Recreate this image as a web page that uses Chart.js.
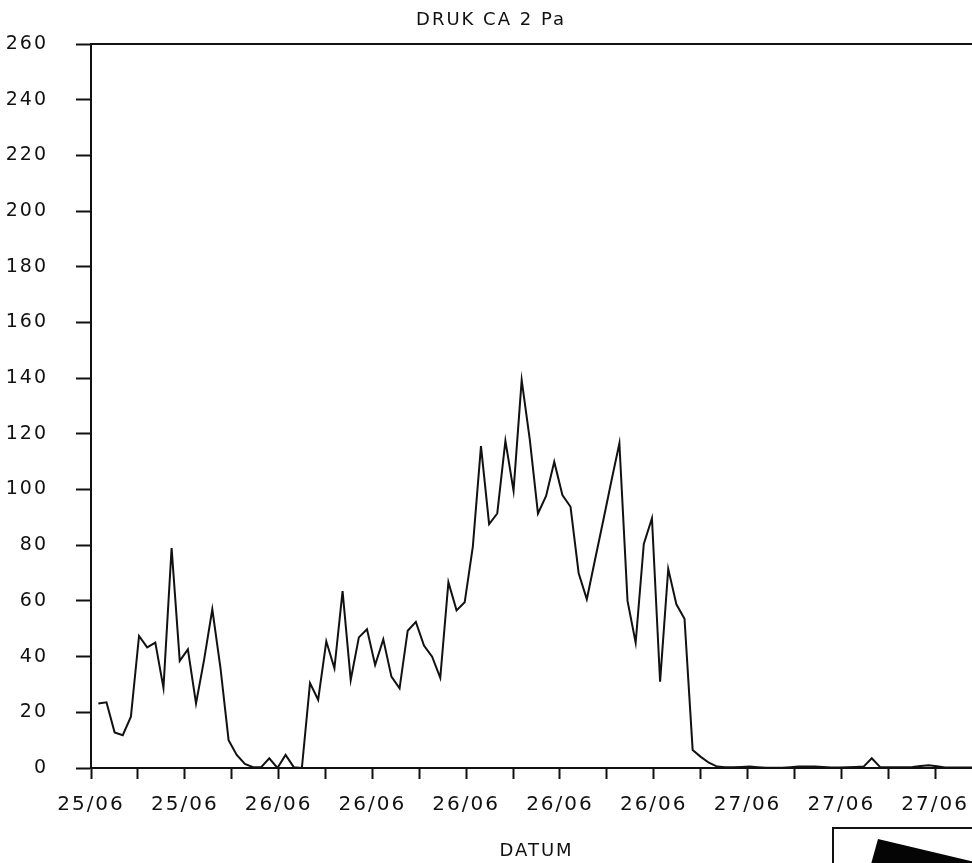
<!DOCTYPE html>
<html>
<head>
<meta charset="utf-8">
<title>DRUK CA 2 Pa</title>
<script src="https://cdn.jsdelivr.net/npm/chart.js@4.4.1/dist/chart.umd.min.js"></script>
<style>
  html, body { margin: 0; padding: 0; overflow: hidden; background: #ffffff; }
  canvas { display: block; }
</style>
</head>
<body>
<canvas id="chart" width="1058" height="863"></canvas>
<script>
// Pressure log: one reading every 25 minutes, drawn against elapsed minutes.
const TITLE = 'DRUK CA 2 Pa';
const X_TITLE = 'DATUM';

// Date labels, one on every other tick of the time axis
const DATE_LABELS = ['25/06', '25/06', '26/06', '26/06', '26/06', '26/06', '26/06', '27/06', '27/06', '27/06'];
const TICK_STEP_MIN = 144;
const TICK_COUNT = 19;

const SAMPLE_START_MIN = 22.5;
const SAMPLE_STEP_MIN = 25;

// Measured pressure (Pa)
const PRESSURE = [
  23.2, 23.6, 12.8, 11.8, 18.4, 47.4, 43.3, 45.0, 28.8, 79.0,
  38.5, 42.6, 23.2, 39.0, 57.0, 36.0, 10.0, 4.7, 1.5, 0.3,
  0.3, 3.5, 0.0, 4.7, 0.3, 0.0, 30.5, 24.5, 45.5, 35.8,
  63.5, 31.6, 46.9, 49.8, 37.0, 46.2, 32.8, 28.6, 49.3, 52.5,
  44.0, 40.0, 32.4, 66.7, 56.6, 59.5, 79.5, 115.6, 87.6, 91.4,
  117.5, 99.6, 139.3, 117.8, 91.4, 97.7, 110.0, 98.0, 93.8, 69.9,
  60.6, 74.7, 88.6, 102.8, 116.6, 60.0, 45.0, 80.5, 89.7, 31.0,
  71.5, 58.8, 53.6, 6.5, 4.0, 1.9, 0.5, 0.3, 0.3, 0.4,
  0.5, 0.3, 0.1, 0.1, 0.1, 0.3, 0.5, 0.5, 0.5, 0.4,
  0.2, 0.2, 0.3, 0.4, 0.5, 3.5, 0.4, 0.3, 0.3, 0.3,
  0.4, 0.7, 1.0, 0.6, 0.2, 0.2, 0.2, 0.2, 0.2
];

// Pressure axis
const Y_MIN = 0;
const Y_MAX = 260;
const Y_STEP = 20;

const INK = '#111111';
const FONT = "'DejaVu Sans', sans-serif";

const points = PRESSURE.map((v, i) => ({ x: SAMPLE_START_MIN + i * SAMPLE_STEP_MIN, y: v }));

// Spaced-out plotter lettering
const lettering = {
  id: 'lettering',
  beforeLayout(chart) { chart.ctx.letterSpacing = '2px'; },
  beforeDraw(chart) { chart.ctx.letterSpacing = '2px'; }
};

// Top frame line and the corner stamp
const frame = {
  id: 'frame',
  afterDraw(chart) {
    const { ctx, chartArea: a } = chart;
    ctx.save();
    ctx.strokeStyle = INK;
    ctx.lineWidth = 2;
    ctx.beginPath();
    ctx.moveTo(a.left, a.top);
    ctx.lineTo(a.right, a.top);
    ctx.stroke();

    // stamp box in the lower right corner
    ctx.beginPath();
    ctx.moveTo(833, chart.height + 5);
    ctx.lineTo(833, 828);
    ctx.lineTo(chart.width, 828);
    ctx.stroke();
    ctx.fillStyle = '#050505';
    ctx.beginPath();
    ctx.moveTo(878, 839);
    ctx.lineTo(1000, 868);
    ctx.lineTo(1000, 875);
    ctx.lineTo(868, 875);
    ctx.closePath();
    ctx.fill();
    ctx.restore();
  }
};

new Chart(document.getElementById('chart'), {
  type: 'line',
  data: {
    datasets: [{
      label: TITLE,
      data: points,
      borderColor: INK,
      borderWidth: 2,
      pointRadius: 0,
      tension: 0,
      fill: false
    }]
  },
  options: {
    responsive: false,
    animation: false,
    devicePixelRatio: 1,
    layout: { padding: { left: 0, right: 76, top: 0, bottom: 0 } },
    plugins: {
      legend: { display: false },
      tooltip: { enabled: false },
      title: {
        display: true,
        text: TITLE,
        color: INK,
        font: { family: FONT, size: 18, weight: 'normal' },
        padding: { top: 10, bottom: 12.4 }
      }
    },
    scales: {
      x: {
        type: 'linear',
        min: 0,
        max: TICK_COUNT * TICK_STEP_MIN,
        afterBuildTicks(scale) {
          scale.ticks = Array.from({ length: TICK_COUNT + 1 }, (_, k) => ({ value: k * TICK_STEP_MIN }));
        },
        afterFit(scale) { scale.height = 95; },
        ticks: {
          autoSkip: false,
          maxRotation: 0,
          minRotation: 0,
          padding: 14,
          color: INK,
          font: { family: FONT, size: 20 },
          callback: (value, index) => (index % 2 === 0 ? (DATE_LABELS[index / 2] || '') : '')
        },
        grid: {
          drawOnChartArea: false,
          drawTicks: true,
          tickLength: 11,
          tickWidth: 2,
          tickColor: INK,
          color: INK
        },
        border: { display: true, color: INK, width: 2 },
        title: {
          display: true,
          text: X_TITLE,
          color: INK,
          font: { family: FONT, size: 18 },
          padding: { top: 0, bottom: 1 }
        }
      },
      y: {
        min: Y_MIN,
        max: Y_MAX,
        afterFit(scale) { scale.width = 91; },
        ticks: {
          stepSize: Y_STEP,
          padding: 28,
          color: INK,
          font: { family: FONT, size: 19 }
        },
        grid: {
          drawOnChartArea: false,
          drawTicks: true,
          tickLength: 15,
          tickWidth: 2,
          tickColor: INK,
          color: INK
        },
        border: { display: true, color: INK, width: 2 }
      }
    }
  },
  plugins: [lettering, frame]
});
</script>
</body>
</html>
